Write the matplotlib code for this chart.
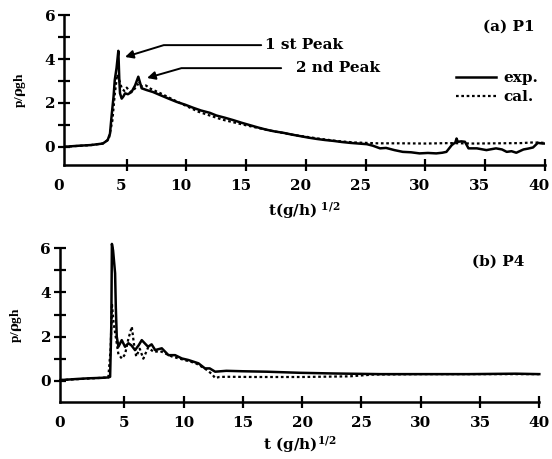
from matplotlib import pyplot as plt
from matplotlib.ticker import MultipleLocator
from matplotlib.transforms import ScaledTranslation
import numpy as np

# ---- data ----
# (a) P1
p1_exp_t = [-0.25, 1.0, 2.0, 3.0, 3.4, 3.6, 3.75, 3.9, 4.0, 4.15, 4.3, 4.38, 4.44, 4.58,
            4.72, 4.86, 5.1, 5.4, 5.7, 5.97, 6.25, 6.67, 7.2, 7.8, 8.5, 9.18, 9.9, 10.57,
            11.2, 11.96, 12.5, 13.2, 13.9, 14.6, 15.3, 16.0, 16.7, 17.4, 18.1, 18.8, 19.5,
            20.2, 20.9, 21.6, 22.3, 23.0, 23.7, 24.4, 25.1, 25.6, 26.2, 26.7, 27.4, 28.1,
            28.8, 29.5, 30.2, 30.9, 31.4, 31.75, 32.2, 32.5, 32.6, 32.7, 33.0, 33.3, 33.6,
            34.3, 35.1, 35.9, 36.4, 36.8, 37.2, 37.6, 38.2, 38.6, 39.0, 39.4, 39.8, 40.0]
p1_exp_p = [0.0, 0.05, 0.08, 0.15, 0.3, 0.6, 1.5, 2.3, 3.05, 3.6, 4.38, 3.05, 2.44, 2.2,
            2.3, 2.44, 2.4, 2.5, 2.8, 3.2, 2.67, 2.59, 2.5, 2.36, 2.2, 2.05, 1.92, 1.78,
            1.66, 1.55, 1.43, 1.33, 1.22, 1.1, 0.99, 0.88, 0.78, 0.7, 0.64, 0.56, 0.49,
            0.42, 0.36, 0.31, 0.27, 0.22, 0.18, 0.15, 0.12, 0.05, -0.07, -0.05, -0.15, -0.23,
            -0.25, -0.3, -0.28, -0.3, -0.27, -0.23, 0.08, 0.2, 0.38, 0.23, 0.25, 0.23, -0.07,
            -0.07, -0.15, -0.07, -0.12, -0.23, -0.2, -0.27, -0.12, -0.08, -0.03, 0.18, 0.15, 0.15]
p1_cal_t = [-0.25, 2.0, 3.0, 3.5, 3.8, 4.0, 4.2, 4.4, 4.6, 4.8, 5.0, 5.3, 5.6, 6.0, 6.3,
            6.6, 7.0, 7.8, 9.0, 11.0, 13.0, 15.0, 17.0, 19.0, 21.0, 22.5, 24.0, 26.0, 28.0,
            30.0, 32.0, 33.0, 34.0, 36.0, 38.0, 39.0, 40.0]
p1_cal_p = [0.0, 0.08, 0.15, 0.35, 1.2, 2.4, 3.3, 3.0, 2.65, 2.55, 2.7, 2.5, 2.6, 2.9, 2.75,
            2.8, 2.65, 2.45, 2.12, 1.6, 1.24, 0.98, 0.74, 0.54, 0.38, 0.27, 0.2, 0.16, 0.16,
            0.15, 0.17, 0.16, 0.15, 0.16, 0.17, 0.2, 0.18]

# (b) P4
p4_exp_t = [-0.4, 1.0, 1.97, 3.0, 3.65, 3.8, 3.9, 3.95, 4.05, 4.22, 4.28, 4.36, 4.5, 4.78,
            5.06, 5.34, 5.6, 5.9, 6.2, 6.47, 7.0, 7.3, 7.6, 8.16, 8.72, 9.28, 9.85, 10.4,
            11.25, 11.8, 12.2, 12.66, 13.6, 15.0, 17.0, 19.8, 22.6, 26.6, 30.0, 34.0, 38.0, 40.0]
p4_exp_p = [0.03, 0.08, 0.11, 0.13, 0.15, 0.18, 2.5, 6.2, 5.9, 4.87, 3.35, 2.0, 1.54, 1.84,
            1.54, 1.7, 1.6, 1.39, 1.6, 1.84, 1.54, 1.65, 1.39, 1.47, 1.16, 1.16, 1.01, 0.94,
            0.79, 0.56, 0.56, 0.41, 0.45, 0.43, 0.41, 0.36, 0.33, 0.3, 0.3, 0.3, 0.32, 0.3]
p4_cal_t = [-0.4, 2.0, 3.65, 3.85, 3.95, 4.1, 4.3, 4.5, 4.8, 5.06, 5.34, 5.63, 5.8, 6.0,
            6.3, 6.6, 7.0, 7.5, 8.0, 9.0, 10.0, 11.0, 11.8, 12.4, 12.66, 13.0, 13.6, 16.0,
            20.0, 24.0, 26.0, 30.0, 35.0, 40.0]
p4_cal_p = [0.03, 0.1, 0.15, 1.5, 3.5, 2.6, 1.9, 1.2, 1.0, 1.2, 1.9, 2.45, 1.7, 1.1,
            1.45, 1.0, 1.5, 1.3, 1.35, 1.1, 0.95, 0.8, 0.55, 0.3, 0.12, 0.17, 0.18, 0.17,
            0.17, 0.2, 0.28, 0.3, 0.3, 0.3]

xticks = [0, 5, 10, 15, 20, 25, 30, 35, 40]
yticks = [0, 2, 4, 6]

plt.rcParams['font.family'] = ['DejaVu Serif']
plt.rcParams['font.weight'] = 'bold'
plt.rcParams['mathtext.fontset'] = 'dejavuserif'
plt.rcParams['mathtext.default'] = 'bf'

FS = 11
CAL_LS = (0, (1.2, 1.2))


def style_axes(ax, fig, xlim, ylim, xlabel, label_shift, xlabelpad):
    ax.set_xlim(*xlim)
    ax.set_ylim(*ylim)
    for s in ('top', 'right'):
        ax.spines[s].set_visible(False)
    for s in ('left', 'bottom'):
        ax.spines[s].set_linewidth(1.8)
    ax.set_xticks(xticks[1:])
    ax.set_yticks(yticks)
    ax.yaxis.set_minor_locator(MultipleLocator(1))
    ax.tick_params(axis='both', which='both', direction='inout', length=8.5, width=1.6)
    ax.tick_params(axis='x', pad=6, labelsize=FS)
    ax.tick_params(axis='y', pad=2, labelsize=FS)
    ax.set_xticklabels([str(v) for v in xticks[1:]], fontweight='bold')
    ax.set_yticklabels([str(v) for v in yticks], fontweight='bold')
    shift = ScaledTranslation(label_shift / 100, 0, fig.dpi_scale_trans)
    for lab in ax.get_xticklabels():
        lab.set_transform(lab.get_transform() + shift)
    # "0" label sits at the axis origin without a tick
    ax.text(xlim[0], -0.095, '0', transform=ax.get_xaxis_transform() + shift,
            ha='center', va='top', fontsize=FS, fontweight='bold')
    ax.set_xlabel(xlabel, fontsize=FS, fontweight='bold', labelpad=xlabelpad)
    ax.set_ylabel(r'p/$\rho$gh', fontsize=9.5, fontweight='bold', labelpad=12,
                  family='Liberation Serif')


fig = plt.figure(figsize=(5.52, 4.59), dpi=100)
ax1 = fig.add_axes([0.1159, 0.6405, 0.8714, 0.3261])
ax2 = fig.add_axes([0.1082, 0.1248, 0.8688, 0.3342])

# top panel
l_exp, = ax1.plot(p1_exp_t, p1_exp_p, color='black', lw=1.8, label='exp.')
l_cal, = ax1.plot(p1_cal_t, p1_cal_p, color='black', lw=1.6, ls=CAL_LS, label='cal.')
style_axes(ax1, fig, (-0.25, 40), (-0.83, 6), r't(g/h)$^{\ 1/2}$', -5.5, 5)
ax1.text(36.97, 5.47, '(a) P1', ha='center', va='center', fontsize=FS, fontweight='bold')
ax1.annotate('1 st Peak', xy=(4.86, 4.1), xytext=(16.6, 4.64), ha='left', va='center',
             fontsize=FS, fontweight='bold',
             arrowprops=dict(arrowstyle='-|>', color='black', lw=1.4, mutation_scale=12,
                             relpos=(0, 0.5), shrinkA=1, shrinkB=0,
                             connectionstyle='angle,angleA=0,angleB=17'))
ax1.annotate('2 nd Peak', xy=(6.7, 3.14), xytext=(19.2, 3.59), ha='left', va='center',
             fontsize=FS, fontweight='bold',
             arrowprops=dict(arrowstyle='-|>', color='black', lw=1.4, mutation_scale=12,
                             relpos=(0, 0.5), shrinkA=9, shrinkB=0,
                             connectionstyle='angle,angleA=0,angleB=16'))
ax1.legend(handles=[l_exp, l_cal], loc='upper left', bbox_to_anchor=(0.815, 0.625),
           frameon=False, borderpad=0, borderaxespad=0, handlelength=2.6,
           handletextpad=0.5, labelspacing=0.3, prop=dict(size=FS, weight='bold'))

# bottom panel
ax2.plot(p4_exp_t, p4_exp_p, color='black', lw=1.8, clip_on=False)
ax2.plot(p4_cal_t, p4_cal_p, color='black', lw=1.6, ls=CAL_LS)
style_axes(ax2, fig, (-0.45, 40), (-0.95, 6), r't (g/h)$^{1/2}$', 0, 3)
ax2.text(36.5, 5.38, '(b) P4', ha='center', va='center', fontsize=FS, fontweight='bold')

fig.savefig('out.png', dpi=100)
